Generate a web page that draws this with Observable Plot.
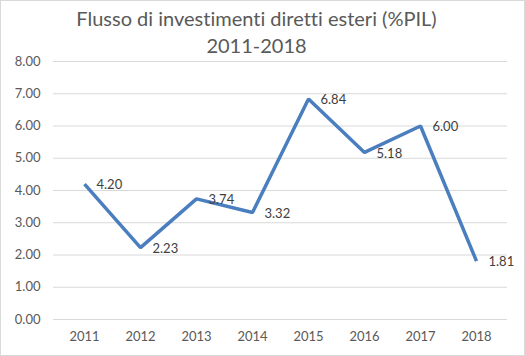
<!DOCTYPE html>
<html>
<head>
<meta charset="utf-8">
<script src="https://cdn.jsdelivr.net/npm/d3@7"></script>
<script src="https://cdn.jsdelivr.net/npm/@observablehq/plot@0.6"></script>
<style>
  html, body { margin: 0; padding: 0; background: #fff; }
  #wrap { width: 523px; height: 354px; border: 1px solid #d9d9d9; position: relative; overflow: hidden; font-family: Lato, "Open Sans", sans-serif; font-variant-ligatures: none; }
  #title { height: 48px; padding-top: 4px; box-sizing: border-box; text-align: center; color: #595959; font-size: 20px; line-height: 27px; padding-right: 12px; }
  #chart svg { display: block; font-variant-ligatures: none; }
</style>
</head>
<body>
<div id="wrap">
  <div id="title">Flusso di investimenti diretti esteri (%PIL)<br>2011-2018</div>
  <div id="chart"></div>
</div>
<script>
const years = ["2011", "2012", "2013", "2014", "2015", "2016", "2017", "2018"];
const values = [4.20, 2.23, 3.74, 3.32, 6.84, 5.18, 6.00, 1.81];
const yTicks = [0, 1, 2, 3, 4, 5, 6, 7, 8];

const data = years.map((y, i) => ({year: y, value: values[i]}));

const chart = Plot.plot({
  width: 523,
  height: 302,
  marginTop: 12,
  marginBottom: 32,
  marginLeft: 52,
  marginRight: 17,
  style: {fontFamily: "Lato, 'Open Sans', sans-serif", fontSize: "13px", color: "#595959", background: "#fff"},
  x: {type: "point", domain: years, padding: 0.5, label: null},
  y: {domain: [0, 8], label: null},
  marks: [
    Plot.gridY(yTicks, {stroke: "#d9d9d9", strokeOpacity: 1, strokeWidth: 1}),
    Plot.axisY(yTicks, {tickSize: 0, tickPadding: 13, tickFormat: d => d.toFixed(2), fill: "#595959", label: null}),
    Plot.axisX(years, {tickSize: 0, tickPadding: 12, fill: "#595959", label: null}),
    Plot.line(data, {x: "year", y: "value", stroke: "#4a7ebf", strokeWidth: 3.5, strokeLinejoin: "miter", strokeLinecap: "butt"}),
    Plot.text(data, {x: "year", y: "value", text: d => d.value.toFixed(2), textAnchor: "start", dx: 12, dy: 1, fill: "#404040", fontSize: 13})
  ]
});
document.getElementById("chart").appendChild(chart);
</script>
</body>
</html>
